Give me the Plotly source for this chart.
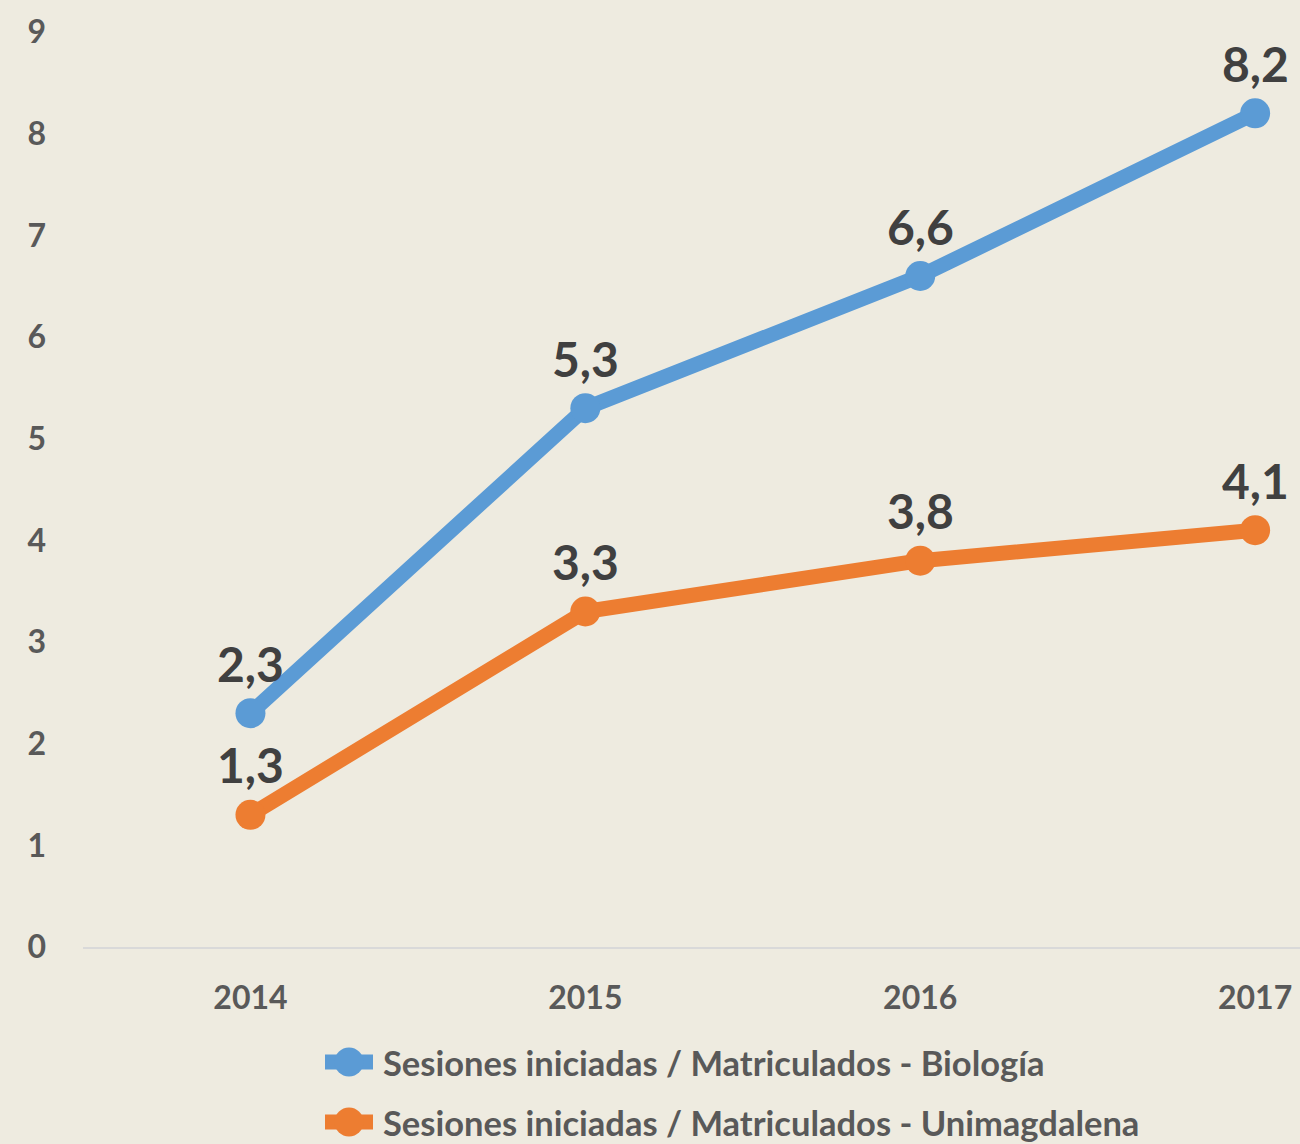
import plotly.graph_objects as go

# Data
years = ["2014", "2015", "2016", "2017"]
biologia = [2.3, 5.3, 6.6, 8.2]
unimagdalena = [1.3, 3.3, 3.8, 4.1]
series_names = [
    "Sesiones iniciadas / Matriculados - Biología",
    "Sesiones iniciadas / Matriculados - Unimagdalena",
]
y_ticks = [0, 1, 2, 3, 4, 5, 6, 7, 8, 9]

colors = ["#5B9BD5", "#ED7D31"]
bg = "#EEEBE0"
font_family = "Lato"

W, H = 1300, 1144
ML, MR, MT, MB = 83, 0, 32, 197
PW, PH = W - ML - MR, H - MT - MB


def px_x(px):
    return (px - ML) / PW


def px_y(py):
    return (H - MB - py) / PH


fig = go.Figure()
for name, vals, col in zip(series_names, [biologia, unimagdalena], colors):
    fig.add_trace(go.Scatter(
        x=years, y=vals, mode="lines+markers", name=name,
        line=dict(color=col, width=15),
        marker=dict(color=col, size=30),
        showlegend=False,
    ))

# Value labels above each point (category index positions)
annotations = []
for vals in [biologia, unimagdalena]:
    for i, v in enumerate(vals):
        annotations.append(dict(
            x=i, y=v, xref="x", yref="y",
            text=f"{v:.1f}".replace(".", ","),
            showarrow=False, xanchor="center", yanchor="middle", yshift=50,
            font=dict(family=font_family, size=48, color="#404040", weight=700),
        ))

# Custom legend rows below the plot
shapes = []
legend_rows = [1062, 1122]
for name, col, ry in zip(series_names, colors, legend_rows):
    shapes.append(dict(
        type="line", xref="paper", yref="paper",
        x0=px_x(325), x1=px_x(373), y0=px_y(ry), y1=px_y(ry),
        line=dict(color=col, width=15),
    ))
    shapes.append(dict(
        type="circle", xref="paper", yref="paper",
        xsizemode="pixel", ysizemode="pixel",
        xanchor=px_x(349), yanchor=px_y(ry),
        x0=-14.5, x1=14.5, y0=-14.5, y1=14.5,
        fillcolor=col, line=dict(color=col, width=0),
    ))
    annotations.append(dict(
        x=px_x(381), y=px_y(ry), xref="paper", yref="paper",
        xanchor="left", yanchor="middle", showarrow=False,
        text=name,
        font=dict(family=font_family, size=34.5, color="#595959", weight=700),
    ))

fig.update_layout(
    width=W, height=H,
    margin=dict(l=ML, r=MR, t=MT, b=MB, autoexpand=False),
    paper_bgcolor=bg, plot_bgcolor=bg,
    showlegend=False,
    annotations=annotations,
    shapes=shapes,
    font=dict(family=font_family, color="#595959"),
)
fig.update_xaxes(
    type="category", range=[-0.5, 3.134],
    showgrid=False, zeroline=False,
    showline=True, linecolor="#D9D9D9", linewidth=2,
    ticks="", ticklabelstandoff=22,
    tickfont=dict(family=font_family, size=32, color="#595959", weight=700),
)
fig.update_yaxes(
    range=[0, 9], tickvals=y_ticks,
    showgrid=False, zeroline=False, showline=False,
    ticks="", ticklabelstandoff=36,
    tickfont=dict(family=font_family, size=32, color="#595959", weight=700),
)

fig.write_html("out.html")
